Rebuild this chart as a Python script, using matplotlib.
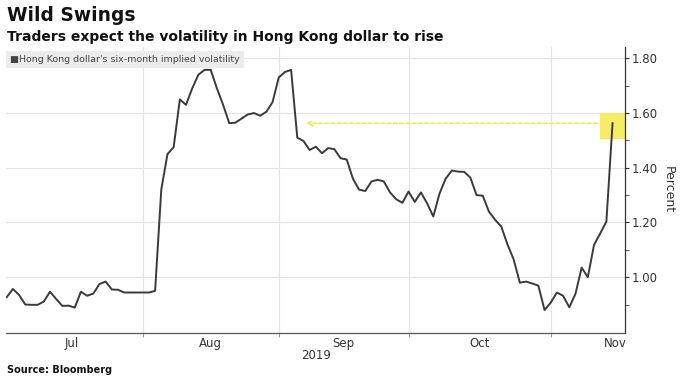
import numpy as np
import pandas as pd
import matplotlib
matplotlib.use('Agg')
import matplotlib.pyplot as plt
from matplotlib.patches import Rectangle

# Hong Kong dollar six-month implied volatility, one value per business day from 2 Jul 2019
vol = [0.927, 0.957, 0.935, 0.900, 0.899, 0.899, 0.911, 0.947, 0.920, 0.895,
       0.896, 0.889, 0.947, 0.932, 0.940, 0.975, 0.984, 0.955, 0.954, 0.944,
       0.944, 0.944, 0.944, 0.944, 0.950, 1.320, 1.450, 1.475, 1.650, 1.630,
       1.690, 1.740, 1.758, 1.758, 1.690, 1.630, 1.563, 1.565, 1.580, 1.595,
       1.600, 1.590, 1.605, 1.640, 1.730, 1.750, 1.758, 1.510, 1.498, 1.465,
       1.477, 1.453, 1.472, 1.468, 1.435, 1.430, 1.360, 1.320, 1.315, 1.350,
       1.356, 1.350, 1.310, 1.285, 1.272, 1.313, 1.275, 1.310, 1.270, 1.222,
       1.305, 1.360, 1.390, 1.386, 1.385, 1.364, 1.300, 1.298, 1.240, 1.210,
       1.185, 1.120, 1.065, 0.980, 0.984, 0.977, 0.969, 0.880, 0.907, 0.944,
       0.932, 0.890, 0.939, 1.035, 1.000, 1.118, 1.160, 1.203, 1.563]
start_date = '2019-07-02'
months = ['2019-07-01', '2019-08-01', '2019-09-01', '2019-10-01', '2019-11-01', '2019-12-01']
month_labels = ['Jul', 'Aug', 'Sep', 'Oct', 'Nov']
yticks = [1.00, 1.20, 1.40, 1.60, 1.80]
highlight_lo, highlight_hi = 1.505, 1.60

title = "Wild Swings"
subtitle = "Traders expect the volatility in Hong Kong dollar to rise"
legend_text = "Hong Kong dollar's six-month implied volatility"

# business-day axis (weekends collapsed, like the terminal chart)
dates = pd.bdate_range(start_date, periods=len(vol))
origin = np.datetime64('2019-07-01')
x = np.busday_count(origin, dates.values.astype('datetime64[D]'))
mx = np.busday_count(origin, np.array(months, dtype='datetime64[D]'))

fig = plt.figure(figsize=(6.8, 3.81), dpi=100)
ax = fig.add_axes([0.009, 0.126, 0.910, 0.751])

ax.set_xlim(0.9, 101)
ax.set_ylim(0.796, 1.842)

# grid
for v in yticks:
    ax.axhline(v, color='#e4e4e4', lw=0.8, zorder=0)
for m in mx[1:5]:
    ax.axvline(m, color='#e4e4e4', lw=0.8, zorder=0)

# yellow highlight box + arrow
ax.add_patch(Rectangle((x[-1] - 2, highlight_lo), 101 - (x[-1] - 2), highlight_hi - highlight_lo,
                       facecolor='#f5ec55', edgecolor='none', alpha=0.9, zorder=1))
ax.annotate('', xy=(49, vol[-1]), xytext=(x[-1] - 2, vol[-1]),
            arrowprops=dict(arrowstyle='->', color='#f0e640', lw=1.0, ls=(0, (3, 1.5)),
                            mutation_scale=10), zorder=2)

ax.plot(x, vol, color='#3a3a3a', lw=1.4, zorder=3)

# axes styling
for s in ['left', 'top']:
    ax.spines[s].set_visible(False)
ax.spines['right'].set_color('#333333')
ax.spines['bottom'].set_color('#555555')
ax.spines['right'].set_linewidth(0.9)
ax.spines['bottom'].set_linewidth(0.9)

ax.yaxis.tick_right()
ax.set_yticks(yticks)
ax.set_yticklabels(['%.2f' % v for v in yticks])
ax.set_yticks(np.arange(0.9, 1.8, 0.2), minor=True)
ax.tick_params(axis='y', which='both', direction='out', length=3, color='#333333',
               labelsize=8.5, labelcolor='#333333', pad=2)
ax.yaxis.set_label_position('right')
ax.set_ylabel('Percent', rotation=-90, fontsize=9, color='#333333', labelpad=12)

ax.set_xticks(mx[1:5])
ax.set_xticklabels([])
ax.set_xticks((mx[:-1] + mx[1:]) / 2, minor=True)
ax.set_xticklabels(month_labels, minor=True)
ax.tick_params(axis='x', which='major', length=3, color='#999999')
ax.tick_params(axis='x', which='minor', length=0, labelsize=8.5, labelcolor='#333333', pad=3)
ax.text(51, -0.080, '2019', transform=ax.get_xaxis_transform(), ha='center', va='center',
        fontsize=8.5, color='#333333')

# legend box
ax.text(0.006, 0.955, '\u25a0' + legend_text, transform=ax.transAxes, ha='left', va='center',
        fontsize=6.8, color='#444444', zorder=4,
        bbox=dict(boxstyle='square,pad=0.45', facecolor='#ececec', edgecolor='none'))

fig.text(0.010, 0.960, title, fontsize=13.4, fontweight='bold', color='#111111', va='center')
fig.text(0.010, 0.904, subtitle, fontsize=10, fontweight='bold', color='#111111', va='center')
fig.text(0.010, 0.030, 'Source: Bloomberg', fontsize=7, fontweight='bold', color='#111111', va='center')

fig.savefig('out.png', dpi=100)
